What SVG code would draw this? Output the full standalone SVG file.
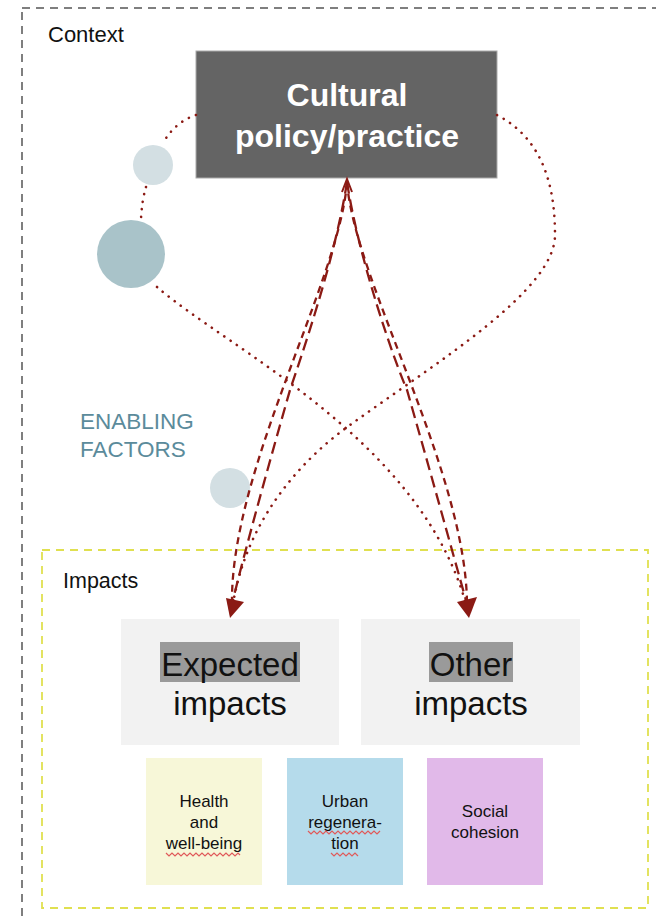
<svg xmlns="http://www.w3.org/2000/svg" width="656" height="921" viewBox="0 0 656 921">
<style>
text{font-family:"Liberation Sans",Arial,sans-serif}
.dash1{fill:none;stroke:#8b1a14;stroke-width:2.3;stroke-dasharray:12,6}
.dash2{fill:none;stroke:#8b1a14;stroke-width:2.3;stroke-dasharray:7,5}
.dot{fill:none;stroke:#8b1a14;stroke-width:2.6;stroke-dasharray:0.1,7.5;stroke-linecap:round}
.head{fill:#8b1a14}
.big{font-size:33px;fill:#111}
.small{font-size:17px;fill:#111;text-anchor:middle}
.squig{fill:none;stroke:#e05a5a;stroke-width:1.2}
</style>
<rect width="656" height="921" fill="#fff"/>
<g id="context">
<rect x="22" y="8" width="700" height="1000" fill="none" stroke="#555" stroke-width="1.5" stroke-dasharray="8,6"/>
<text x="48" y="42" font-size="22" fill="#111">Context</text>
</g>
<g id="impacts-frame">
<rect x="42" y="550" width="606" height="358" fill="none" stroke="#e0e050" stroke-width="1.8" stroke-dasharray="8,6"/>
<text x="63" y="588" font-size="21.5" fill="#111">Impacts</text>
</g>
<g id="enabling">
<circle cx="153" cy="165" r="20" fill="#d3dfe3"/>
<circle cx="131" cy="254" r="34" fill="#a9c3c9"/>
<circle cx="230" cy="488" r="20" fill="#d3dfe3"/>
<text x="80" y="429" font-size="22.5" fill="#5b8b9b">ENABLING</text>
<text x="80" y="457" font-size="22.5" fill="#5b8b9b">FACTORS</text>
</g>
<g id="cultural">
<rect x="196" y="51" width="301" height="127" fill="#646464" stroke="#aaa" stroke-width="1"/>
<text x="347" y="106" font-size="32" font-weight="bold" fill="#fff" text-anchor="middle">Cultural</text>
<text x="347" y="147" font-size="32" font-weight="bold" fill="#fff" text-anchor="middle">policy/practice</text>
</g>
<g id="expected">
<rect x="121" y="619" width="218" height="126" fill="#f2f2f2"/>
<rect x="160" y="642" width="140" height="40" fill="#9a9a9a"/>
<text class="big" x="230" y="676" text-anchor="middle">Expected</text>
<text class="big" x="230" y="715" text-anchor="middle">impacts</text>
</g>
<g id="other">
<rect x="361" y="619" width="219" height="126" fill="#f2f2f2"/>
<rect x="429" y="642" width="84" height="40" fill="#9a9a9a"/>
<text class="big" x="471" y="676" text-anchor="middle">Other</text>
<text class="big" x="471" y="715" text-anchor="middle">impacts</text>
</g>
<g id="health">
<rect x="146" y="758" width="116" height="127" fill="#f7f7d8"/>
<text class="small" x="204" y="807">Health</text>
<text class="small" x="204" y="828">and</text>
<text class="small" x="204" y="849">well-being</text>
<path class="squig" d="M166,853 l3,3 l3,-3 l3,3 l3,-3 l3,3 l3,-3 l3,3 l3,-3 l3,3 l3,-3 l3,3 l3,-3 l3,3 l3,-3 l3,3 l3,-3 l3,3 l3,-3 l3,3 l3,-3 l3,3 l3,-3 l3,3 l3,-3 l2,2"/>
</g>
<g id="urban">
<rect x="287" y="758" width="116" height="127" fill="#b5dbeb"/>
<text class="small" x="345" y="807">Urban</text>
<text class="small" x="345" y="828">regenera-</text>
<text class="small" x="345" y="849">tion</text>
<path class="squig" d="M308,831 l3,3 l3,-3 l3,3 l3,-3 l3,3 l3,-3 l3,3 l3,-3 l3,3 l3,-3 l3,3 l3,-3 l3,3 l3,-3 l3,3 l3,-3 l3,3 l3,-3 l3,3 l3,-3 l3,3 l3,-3 l3,3 l3,-3"/>
<path class="squig" d="M331,853 l3,3 l3,-3 l3,3 l3,-3 l3,3 l3,-3 l3,3 l3,-3 l3,3"/>
</g>
<g id="social">
<rect x="427" y="758" width="116" height="127" fill="#e1b9e9"/>
<text class="small" x="485" y="817">Social</text>
<text class="small" x="485" y="838">cohesion</text>
</g>
<g id="connectors">
<path class="dot" d="M196,115 Q175,122 163,143"/>
<path class="dot" d="M146,187 Q142,200 141,219"/>
<path class="dot" d="M157,287 C230,350 420,440 466,604"/>
<path class="dot" d="M497,115 C545,140 555,190 555,235 C555,290 440,360 350,425 C290,468 245,530 233,604"/>
<path class="dash1" d="M347,182 C335,260 300,360 290,390 C270,460 245,550 232,604"/>
<path class="dash2" d="M347,182 C340,280 230,470 232,604"/>
<path class="dash1" d="M347,182 C359,260 394,360 407,390 C427,460 452,550 467,604"/>
<path class="dash2" d="M347,182 C354,280 466,470 467,604"/>
<path d="M342,192 L347,179 L352,192" fill="none" stroke="#8b1a14" stroke-width="2"/>
<polygon class="head" points="230,618 226,598 244,602"/>
<polygon class="head" points="469,618 457,602 477,597"/>
</g>
</svg>
